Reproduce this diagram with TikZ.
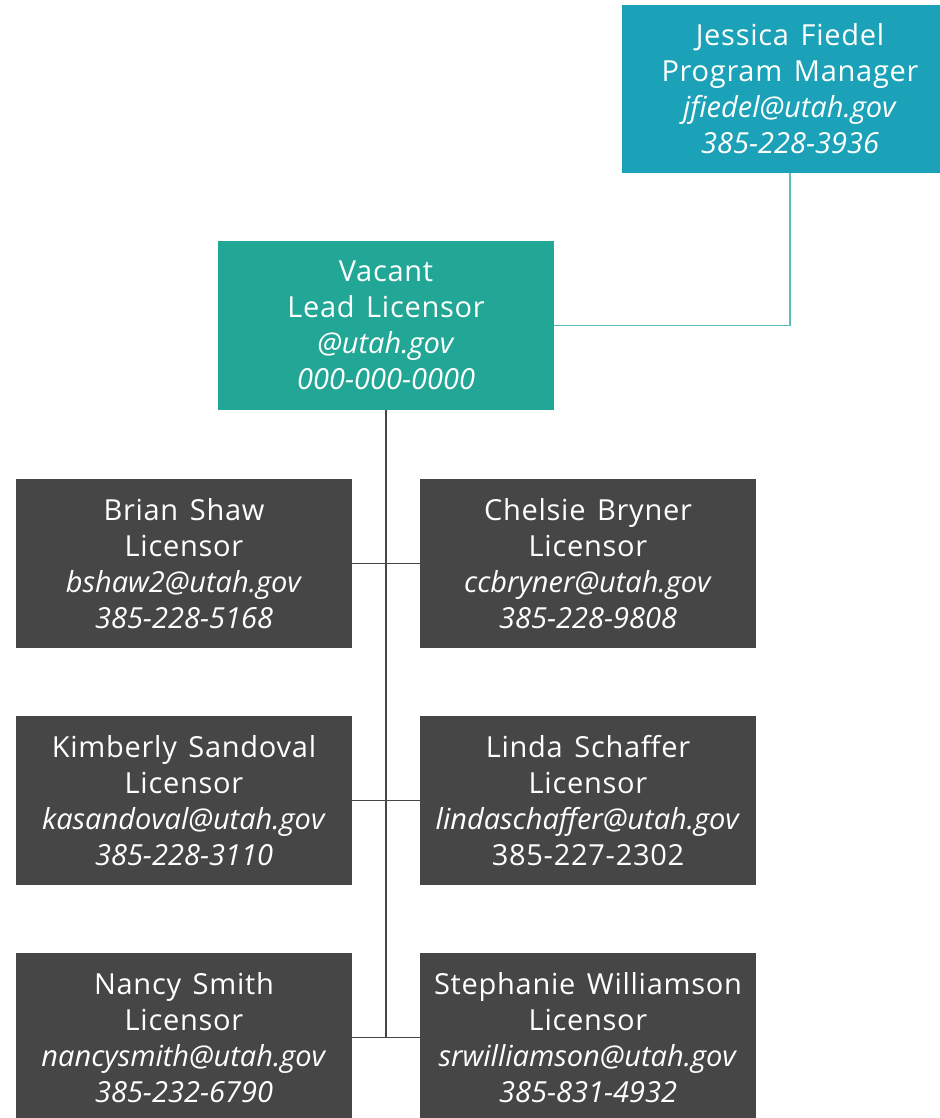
\documentclass[tikz,border=0pt]{standalone}
\usepackage{fontspec}
\setmainfont{Open Sans}[UprightFeatures={LetterSpace=2.5}, WordSpace=1.4]
\usetikzlibrary{positioning}

\definecolor{mgrblue}{HTML}{1BA2B8}
\definecolor{leadgreen}{HTML}{22A695}
\definecolor{staffgray}{HTML}{464646}
\definecolor{linkteal}{HTML}{5BBDB3}

\tikzset{
  card/.style={rectangle, inner sep=0pt, text=white, align=center,
    minimum width=336pt, minimum height=169pt,
    font=\fontsize{29}{36}\selectfont},
  staff/.style={card, fill=staffgray},
  tie/.style={draw=staffgray, line width=1.8pt},
}

\begin{document}
\begin{tikzpicture}[x=1pt, y=-1pt]
  \useasboundingbox (0,0) rectangle (939,1118);

  \node[card, fill=mgrblue, minimum height=168pt] (jf) at (790,89)
    {Jessica Fiedel\\Program Manager\\\textit{jfiedel@utah.gov}\\\textit{385-228-3936}};
  \node[card, fill=leadgreen] (vac) at (386,325.5)
    {Vacant\\Lead Licensor\\\textit{@utah.gov}\\\textit{000-000-0000}};

  \node[staff] (l1) at (184,563.5)
    {Brian Shaw\\Licensor\\\textit{bshaw2@utah.gov}\\\textit{385-228-5168}};
  \node[staff] (r1) at (588,563.5)
    {Chelsie Bryner\\Licensor\\\textit{ccbryner@utah.gov}\\\textit{385-228-9808}};
  \node[staff] (l2) at (184,800.5)
    {Kimberly Sandoval\\Licensor\\\textit{kasandoval@utah.gov}\\\textit{385-228-3110}};
  \node[staff] (r2) at (588,800.5)
    {Linda Schaffer\\Licensor\\\textit{lindaschaffer@utah.gov}\\385-227-2302};
  \node[staff] (l3) at (184,1037.5)
    {Nancy Smith\\Licensor\\\textit{nancysmith@utah.gov}\\\textit{385-232-6790}};
  \node[staff] (r3) at (588,1037.5)
    {Stephanie Williamson\\Licensor\\\textit{srwilliamson@utah.gov}\\\textit{385-831-4932}};

  \draw[draw=linkteal, line width=1.5pt] (jf.south) |- (vac.east);
  \draw[tie] (vac.south) -- (vac.south |- l3.east);
  \draw[tie] (l1.east) -- (r1.west);
  \draw[tie] (l2.east) -- (r2.west);
  \draw[tie] (l3.east) -- (r3.west);
\end{tikzpicture}
\end{document}
